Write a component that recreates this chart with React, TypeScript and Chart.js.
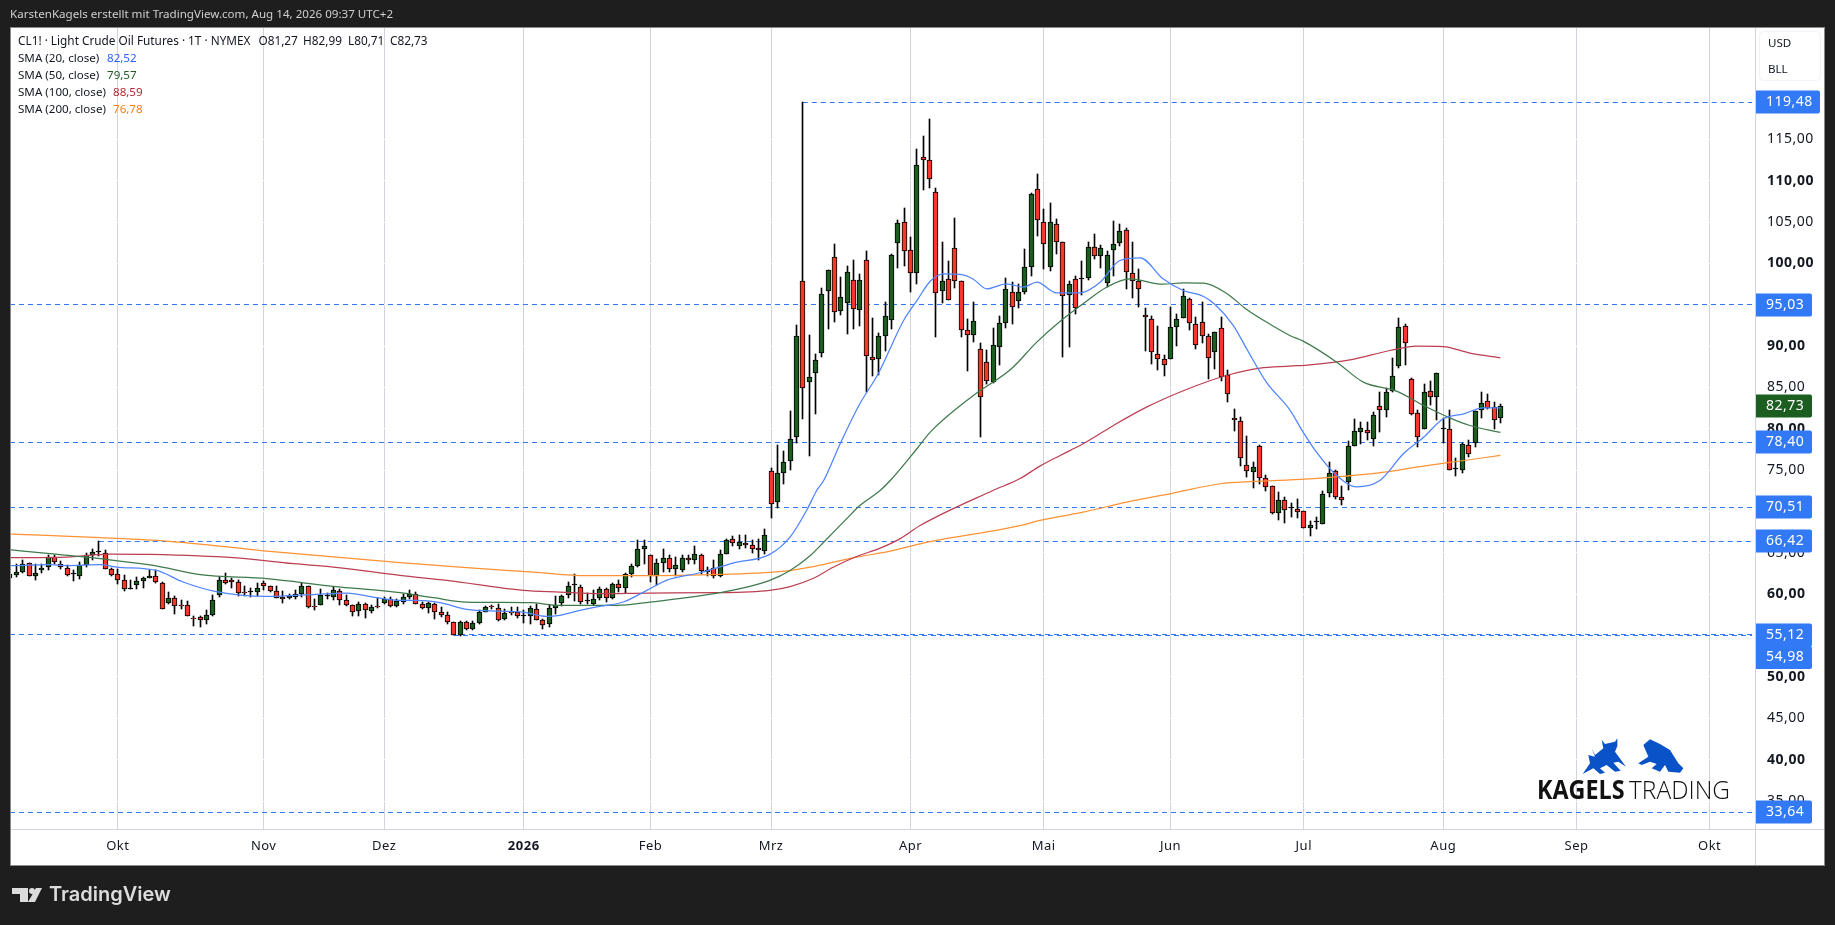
import React, { useEffect, useRef } from "react";
import { Chart, registerables } from "chart.js";

Chart.register(...registerables);

const opens = [
  61.96,62.36,62.69,63.81,62.24,62.93,63.33,64.54,63.69,63.21,
  62.40,62.24,63.57,64.74,65.10,65.02,63.09,62.49,61.76,60.67,
  61.16,61.64,61.96,62.24,61.40,58.98,59.58,58.70,58.74,57.13,
  57.29,56.89,57.49,59.95,61.76,61.76,61.52,60.31,60.27,60.27,
  61.40,61.04,60.39,59.71,59.54,59.71,60.03,61.04,58.62,58.74,
  59.75,59.67,60.43,59.34,58.74,57.97,58.86,57.97,58.50,58.98,
  59.46,58.58,59.06,59.66,60.07,58.86,58.33,58.86,57.89,57.53,
  56.64,55.07,56.68,55.84,56.52,57.89,58.53,58.33,57.04,57.85,
  57.85,57.41,57.37,58.25,56.88,56.44,58.33,58.98,59.90,61.07,
  60.91,59.14,58.78,59.54,60.67,59.58,61.19,60.79,62.48,63.41,
  65.46,64.70,62.20,63.81,64.42,63.09,62.88,64.42,64.17,64.78,
  62.97,63.21,62.16,64.90,66.71,65.83,66.23,65.99,65.62,65.26,
  74.93,71.14,74.69,76.14,79.00,97.89,85.64,86.77,89.15,96.68,
  100.79,94.27,95.23,98.01,94.39,100.43,88.71,88.47,91.24,93.18,
  102.44,105.02,101.64,98.86,112.87,112.51,108.65,96.68,98.13,101.88,
  97.89,91.97,91.36,89.67,88.10,85.64,89.91,92.81,96.56,95.47,
  96.56,99.58,109.01,105.02,99.58,104.78,102.60,96.20,98.13,98.13,
  98.25,102.00,100.91,97.65,101.63,102.48,104.05,98.86,97.89,93.78,
  93.30,89.07,88.46,88.46,92.33,93.42,95.71,92.69,92.93,91.24,
  89.31,92.21,86.53,81.33,80.97,75.65,74.81,77.95,74.08,73.12,
  69.85,71.43,70.46,70.34,70.05,68.00,68.68,68.52,72.27,74.93,
  71.78,73.60,77.95,79.64,79.88,78.79,82.78,82.30,84.59,87.62,
  92.45,86.04,81.94,80.00,84.59,83.87,80.00,80.00,75.17,75.05,
  78.07,78.31,82.30,83.39,82.66,81.27,
];
const highs = [
  62.69,63.69,64.10,63.81,63.69,63.69,64.78,64.78,64.02,63.49,
  62.97,63.90,65.02,65.51,66.39,65.39,63.17,63.09,62.28,61.76,
  62.08,62.08,62.89,62.89,61.48,60.27,59.75,59.26,59.14,57.33,
  57.41,58.05,59.87,62.08,62.61,62.00,61.76,61.04,60.75,61.40,
  61.56,61.04,61.04,60.39,60.07,60.47,61.36,61.04,59.46,60.67,
  60.15,60.87,60.67,59.87,58.74,59.06,58.98,58.66,59.58,59.71,
  59.67,59.46,60.07,60.47,60.27,59.06,59.06,58.98,58.45,57.85,
  56.68,56.72,56.72,56.72,58.13,58.53,58.74,58.86,58.25,58.45,
  58.45,58.05,58.57,58.86,57.04,58.66,59.74,59.86,61.47,62.40,
  61.15,60.19,60.47,60.87,60.75,61.35,61.76,62.56,63.69,66.55,
  66.60,64.70,64.29,65.50,64.70,64.50,64.70,64.70,65.78,64.90,
  63.29,64.09,65.30,66.71,66.99,67.20,67.12,66.59,66.71,67.84,
  75.29,77.99,77.27,82.10,92.61,119.48,91.40,88.99,97.08,99.22,
  102.40,98.41,99.74,100.47,98.66,101.56,93.34,91.61,95.39,101.15,
  105.26,106.75,103.25,113.88,115.45,117.51,109.13,102.64,100.35,105.54,
  97.89,93.22,95.39,90.32,89.55,92.13,93.70,98.29,97.81,97.57,
  101.80,108.52,110.82,106.63,107.36,105.42,102.60,97.89,98.49,100.35,
  102.60,103.57,102.24,101.51,105.14,104.78,104.29,102.60,99.34,94.63,
  93.70,92.49,88.95,94.75,93.90,96.92,95.83,93.54,95.35,91.48,
  91.73,93.54,87.13,82.34,81.45,79.16,76.02,78.07,74.45,73.12,
  72.39,71.79,71.06,71.55,70.05,68.80,69.33,72.51,76.01,74.97,
  73.11,78.55,81.21,80.85,80.85,82.06,84.47,84.92,88.58,93.42,
  92.69,86.16,82.30,85.44,85.84,86.77,81.33,82.30,76.46,78.31,
  78.67,82.18,84.47,84.23,83.27,82.99,
];
const lows = [
  61.88,62.08,62.57,62.16,61.68,62.57,62.93,63.69,63.05,62.16,
  61.60,61.84,63.29,64.10,64.58,63.05,62.16,61.28,60.39,60.67,
  60.67,60.71,61.96,61.36,58.26,58.86,57.65,58.26,57.33,56.20,
  56.04,56.44,57.37,59.67,61.20,60.71,59.83,59.75,59.67,59.83,
  60.55,60.23,59.50,58.94,59.46,59.46,59.67,58.38,58.13,58.66,
  59.42,59.34,58.66,58.62,57.41,57.41,57.13,57.69,58.38,58.86,
  58.46,58.46,58.86,59.46,58.78,58.21,57.73,57.00,57.25,56.36,
  55.07,54.99,55.72,55.72,56.44,57.85,58.25,56.80,56.84,57.45,
  57.16,56.56,56.44,56.84,55.80,56.04,57.57,58.53,59.58,59.18,
  58.78,58.78,58.66,59.34,59.06,59.46,60.27,60.15,62.08,63.29,
  63.69,61.47,61.11,62.68,62.68,62.16,62.68,63.69,63.69,62.48,
  62.24,62.00,62.08,64.82,65.79,65.46,65.54,64.98,64.09,64.90,
  69.21,70.46,73.28,74.97,78.27,81.13,76.70,81.74,88.67,92.05,
  92.90,93.82,91.45,92.01,92.41,84.44,86.33,86.53,89.47,92.05,
  99.42,99.66,96.52,97.49,108.85,109.17,91.08,95.19,95.59,97.00,
  91.08,86.97,90.48,79.00,85.44,85.52,87.66,92.25,92.65,94.55,
  96.28,98.45,103.29,99.30,99.06,101.11,88.66,89.87,93.90,96.16,
  98.01,100.51,99.42,97.20,98.53,102.08,96.88,95.79,94.71,89.39,
  87.82,87.13,86.37,88.46,90.07,93.42,91.93,89.63,90.36,86.01,
  87.29,85.76,83.23,79.76,75.49,74.16,72.83,73.36,72.47,69.73,
  68.97,68.61,69.33,69.21,68.00,67.03,67.88,68.52,71.74,71.50,
  70.78,72.59,77.95,78.15,78.59,77.91,79.56,81.41,84.47,87.33,
  87.70,81.69,77.83,80.00,82.94,81.05,78.31,75.05,74.32,74.69,
  76.62,77.79,81.33,82.42,80.00,80.71,
];
const closes = [
  62.49,62.73,63.69,62.24,62.61,63.21,64.50,63.90,63.29,62.36,
  62.40,63.57,64.78,65.14,65.10,63.09,62.36,61.76,60.67,60.67,
  61.64,62.00,62.24,61.48,58.26,59.58,58.62,58.62,57.37,57.05,
  56.89,57.53,59.34,61.76,61.36,61.48,60.15,60.15,60.27,60.79,
  61.00,60.39,59.54,59.46,59.83,60.07,61.04,58.46,58.46,59.91,
  59.75,60.55,59.34,58.74,57.89,58.86,58.13,58.50,58.46,59.46,
  58.58,59.14,59.66,60.07,58.86,58.33,58.98,57.85,57.53,56.64,
  55.07,56.68,55.84,56.52,57.89,58.45,58.49,56.88,57.77,57.77,
  57.41,57.41,58.37,56.92,56.28,58.37,58.74,59.78,61.03,61.07,
  59.02,59.14,59.46,60.67,59.58,61.27,60.79,62.48,63.45,65.50,
  65.78,62.24,63.81,64.42,63.09,63.49,64.42,64.17,64.90,62.80,
  62.72,62.24,64.90,66.59,66.23,66.27,65.95,65.46,65.30,67.20,
  70.94,74.69,76.02,78.80,91.24,84.96,86.29,88.34,96.32,99.22,
  94.14,95.96,98.98,94.51,98.01,88.83,88.34,91.24,93.66,101.03,
  104.90,101.52,98.86,111.91,112.51,110.22,96.44,97.89,95.59,97.89,
  91.97,91.36,93.06,83.87,85.81,90.16,92.81,96.92,94.75,96.56,
  99.58,108.40,105.26,102.36,105.02,102.60,96.08,97.53,94.63,98.13,
  102.00,100.91,101.88,101.03,102.36,103.93,98.98,97.89,96.92,93.54,
  89.31,88.46,87.74,92.33,93.30,96.08,92.81,90.16,91.24,88.58,
  91.73,86.29,84.23,81.09,76.50,74.93,75.41,74.08,72.99,69.85,
  71.43,70.22,70.46,69.94,68.00,68.40,68.68,72.15,74.69,71.78,
  71.42,77.95,79.76,80.12,79.52,81.69,82.30,84.47,86.41,92.33,
  90.39,81.81,79.03,84.47,83.87,86.77,80.00,75.05,75.17,78.19,
  76.98,82.18,83.14,82.54,81.09,82.73,
];

// SMA readings: bar position and value
const sma20X = [0,6.3,8.9,14.2,16.8,23.1,27.3,32.1,40.5,48.3,53.1,57.8,61.5,64.1,67.8,72,77.3,80.9,84.6,86.7,89.9,93,96.7,100.4,103.5,108.8,114,119.8,123,125.6,127.2,128.3,130.9,134,136.9,140.9,143,145.1,147.2,149.8,151.9,154,157.1,159.8,161.9,165,168.7,171.9,175,178.2,181.8,185,188.2,190,192.9,195,198.1,201.8,203.9,206,209.2,212.3,216,219.7,222.9,226,229.2,232.3,235];
const sma20Y = [63.45,63.57,63.45,63.57,63.29,62.89,61.48,60.39,59.75,59.99,60.15,59.58,59.26,59.26,58.98,58.17,57.97,57.85,57.33,57.45,58.05,58.53,59.06,60.47,61.68,62.6,63.77,64.82,66.9,70.12,72.54,73.75,78.19,83.03,86.65,93.1,95.51,97.85,98.74,98.66,98.09,96.92,97.53,97.13,97.73,96.44,96.44,97.73,100.35,100.67,98.13,96.72,96,95.03,92.49,89.67,85.64,82.3,79.6,77.18,74.36,72.99,73.76,76.98,78.99,81.21,81.81,82.54,82.52];
const sma50X = [0,6.3,14.2,22.6,30,40.5,51,61.5,66.8,72,82,86.7,95.7,100.9,111.9,119.8,123,126.2,128.3,131.9,134,137.2,138.8,143,145.1,151.9,157.9,161.9,165.6,169.2,172.9,176.6,181.8,185,188.2,191.8,195,199.2,201.8,203.9,209.2,213.4,218.6,222.9,227,230.2,235];
const sma50Y = [65.39,64.9,64.3,63.49,62.36,61.88,60.95,60.19,59.58,59.06,58.98,58.66,58.66,59.06,60.19,61.68,62.87,64.68,66.29,69.11,70.73,72.54,73.75,77.59,79.6,84.03,87.26,90.48,93,95.11,97.12,98.13,97.49,97.65,97.61,96.4,94.42,92.41,91.28,90.6,88.06,85.64,84.55,82.82,81.33,80.4,79.57];
const sma100X = [0,8.9,15.8,22.1,35.2,44.7,51,61.5,68.9,80.9,86.7,93,100.9,111.4,119.8,123,126.7,129.8,133.5,137.2,140.3,143.5,155,159.2,162.4,165.6,169.2,174,179.2,185.5,191.8,197.1,201.8,205,211.3,217.6,221.8,226,230.2,235];
const sma100Y = [64.42,64.5,64.86,64.82,64.42,63.69,63.29,62.28,61.68,60.47,60.27,60.07,60.15,60.19,60.47,60.93,61.94,63.27,64.56,65.57,66.7,68.31,72.55,73.96,75.49,76.78,78.19,80.41,82.62,84.76,86.45,87.34,87.58,87.74,88.34,89.47,90,89.95,89.15,88.59];
const sma200X = [0,14.2,24.7,40.5,61.5,72,82.5,90.9,98.3,112,123,126.7,133.5,138.8,143.5,146.1,152.4,159.8,162.4,165.6,169.2,176.1,183.4,190.8,196,201.8,207.1,215.5,222.9,228.1,235];
const sma200Y = [67.28,66.84,66.43,65.22,63.81,63.21,62.68,62.24,62.24,62.4,62.87,63.35,64.48,65.21,66.09,66.51,67.32,68.4,68.93,69.41,69.93,71.14,72.23,73.36,73.64,73.84,74.08,74.64,75.49,76.05,76.78];

const levelValues = [119.48, 95.03, 78.4, 70.51, 66.42, 55.12, 54.98, 33.64];
const levelStarts = [125, 0, 0, 0, 14, 0, 70, 0];
const levelEnd = 274.7;

const yTicks = [35,40,45,50,55,60,65,70,75,80,85,90,95,100,105,110,115];
const monthTickPositions = [17,40,59,81,101,120,142,163,183,204,226,247,268];
const monthTickLabels = ["Okt","Nov","Dez","2026","Feb","Mrz","Apr","Mai","Jun","Jul","Aug","Sep","Okt"];

const BLUE_LEVEL = "#3179f5";
const GRID = "#d1d4dc";
const TEXT = "#131722";
const UI_FONT = '"Noto Sans"';

const fmt = (v: number) => v.toFixed(2).replace(".", ",");
const pairs = (xs: number[], ys: number[]) => xs.map((x, i) => ({ x, y: ys[i] }));

function poly(ctx: CanvasRenderingContext2D, ox: number, oy: number, pts: number[][]) {
  ctx.beginPath();
  pts.forEach(([a, b], i) => {
    const px = ox + a / 3;
    const py = oy + b / 3;
    if (i === 0) ctx.moveTo(px, py);
    else ctx.lineTo(px, py);
  });
  ctx.closePath();
  ctx.fill();
}

function stretchedText(ctx: CanvasRenderingContext2D, text: string, x: number, y: number, sx: number) {
  ctx.save();
  ctx.translate(x, y);
  ctx.scale(sx, 1);
  ctx.fillText(text, 0, 0);
  ctx.restore();
}

// Snap candles and horizontal levels to whole device pixels after the scales placed them.
const crispPlugin = {
  id: "crisp",
  afterDatasetsUpdate(chart: any) {
    chart.data.datasets.forEach((ds: any, i: number) => {
      const meta = chart.getDatasetMeta(i);
      if (ds.type === "bar") {
        meta.data.forEach((el: any) => {
          el.x = Math.floor(el.x) + 0.5;
          el.y = Math.round(el.y);
          el.base = Math.round(el.base);
          if (el.y === el.base) el.base = el.y + 1;
        });
      } else if (ds.borderDash) {
        meta.data.forEach((el: any) => {
          el.y = Math.floor(el.y) + 0.5;
        });
      }
    });
  },
};

const framePlugin = {
  id: "frame",
  beforeDraw(chart: any) {
    const { ctx } = chart;
    ctx.save();
    ctx.fillStyle = "#1e1e1e";
    ctx.fillRect(0, 0, 1835, 925);
    ctx.fillStyle = "#8a8a8a";
    ctx.fillRect(10, 27, 1815, 839);
    ctx.fillStyle = "#ffffff";
    ctx.fillRect(11, 28, 1813, 837);
    ctx.restore();
    ctx.letterSpacing = "0.5px";
  },
  afterDraw(chart: any) {
    const { ctx, scales } = chart;
    const y = scales.y;
    ctx.save();
    ctx.letterSpacing = "0px";
    ctx.fillStyle = GRID;
    ctx.fillRect(1755, 28, 1, 837);
    ctx.fillRect(11, 829, 1813, 1);

    // header
    ctx.textBaseline = "middle";
    ctx.textAlign = "left";
    ctx.fillStyle = "#cfcfcf";
    ctx.font = `11.6px ${UI_FONT}`;
    ctx.fillText("KarstenKagels erstellt mit TradingView.com, Aug 14, 2026 09:37 UTC+2", 10, 15);

    // legend
    ctx.font = `11.8px ${UI_FONT}`;
    ctx.fillStyle = TEXT;
    ctx.fillText("CL1! · Light Crude Oil Futures · 1T · NYMEX", 18, 42);
    ctx.fillText("O81,27", 258.5, 42);
    ctx.fillText("H82,99", 303, 42);
    ctx.fillText("L80,71", 348, 42);
    ctx.fillText("C82,73", 390, 42);
    ctx.font = `11.6px ${UI_FONT}`;
    const legendRows = [
      ["SMA (20, close)", "82,52", "#2962ff", 107, 59],
      ["SMA (50, close)", "79,57", "#1b5e20", 107, 76],
      ["SMA (100, close)", "88,59", "#b22833", 113, 93],
      ["SMA (200, close)", "76,78", "#f57f17", 113, 110],
    ] as const;
    legendRows.forEach(([name, value, color, vx, ly]) => {
      ctx.fillStyle = TEXT;
      ctx.fillText(name, 18, ly);
      ctx.fillStyle = color;
      ctx.fillText(value, vx, ly);
    });

    // currency box
    ctx.strokeStyle = "#f0f3fa";
    ctx.lineWidth = 1;
    ctx.beginPath();
    ctx.roundRect(1759.5, 31.5, 61, 49, 4);
    ctx.stroke();
    ctx.fillStyle = TEXT;
    ctx.fillText("USD", 1768, 44);
    ctx.fillText("BLL", 1768, 70);

    // price labels
    ctx.letterSpacing = "0.5px";
    ctx.font = `14px ${UI_FONT}`;
    levelValues.forEach((v) => {
      const py = Math.round(y.getPixelForValue(v));
      const label = fmt(v);
      const w = v >= 100 ? 64 : 56;
      const by = v === 54.98 ? py + 10 : py - 11.5;
      ctx.fillStyle = BLUE_LEVEL;
      ctx.beginPath();
      ctx.roundRect(1756, by, w, 23, [0, 2, 2, 0]);
      ctx.fill();
      ctx.fillStyle = "#ffffff";
      ctx.fillText(label, 1766, by + 11.5);
    });
    const lastClose = closes[closes.length - 1];
    const lastY = Math.round(y.getPixelForValue(lastClose));
    ctx.fillStyle = "#1b5e20";
    ctx.beginPath();
    ctx.roundRect(1756, lastY - 11.5, 56, 23, [0, 2, 2, 0]);
    ctx.fill();
    ctx.fillStyle = "#ffffff";
    ctx.fillText(fmt(lastClose), 1766, lastY);
    ctx.letterSpacing = "0px";

    // watermark logo
    ctx.fillStyle = "#0a52c8";
    poly(ctx, 1500, 640, [[248,402],[270,370],[265,345],[285,350],[275,325],[285,345],[310,325],[305,300],[315,312],[345,305],[352,295],[352,318],[345,335],[378,380],[355,365],[340,368],[362,392],[345,395],[320,375],[300,385],[315,398],[300,402],[280,385]]);
    poly(ctx, 1500, 640, [[415,370],[445,350],[430,315],[450,298],[480,312],[510,330],[535,370],[550,385],[540,398],[505,395],[495,375],[480,395],[455,385],[470,372],[450,365],[425,375]]);
    ctx.fillStyle = "#111111";
    ctx.font = `700 26.5px "Open Sans"`;
    stretchedText(ctx, "KAGELS", 1537, 791, 0.88);
    ctx.font = `300 26.5px "Open Sans"`;
    stretchedText(ctx, "TRADING", 1629, 791, 0.925);

    // TradingView mark
    ctx.fillStyle = "#dcdcdc";
    ctx.fillRect(12, 888, 16, 6);
    ctx.fillRect(20, 888, 8, 14);
    ctx.beginPath();
    ctx.arc(32, 891, 3, 0, Math.PI * 2);
    ctx.fill();
    ctx.beginPath();
    ctx.moveTo(36, 888);
    ctx.lineTo(42, 888);
    ctx.lineTo(35, 902);
    ctx.lineTo(28, 902);
    ctx.closePath();
    ctx.fill();
    ctx.font = `600 20px Inter`;
    ctx.fillText("TradingView", 49, 895);
    ctx.restore();
  },
};

export default function App() {
  const ref = useRef<HTMLCanvasElement | null>(null);

  useEffect(() => {
    const canvas = ref.current;
    if (!canvas) return;
    const idx = closes.map((_, i) => i);
    const bodyColors = idx.map((i) =>
      closes[i] > opens[i] ? "#1b5e20" : closes[i] < opens[i] ? "#f7372c" : "#000000"
    );
    const levelDatasets = levelValues.map((v, i) => ({
      type: "line",
      data: [{ x: levelStarts[i], y: v }, { x: levelEnd, y: v }],
      borderColor: BLUE_LEVEL,
      borderWidth: 1,
      borderDash: [5, 4],
      pointRadius: 0,
      order: 5,
    }));
    const sma = (xs: number[], ys: number[], color: string) => ({
      type: "line",
      data: pairs(xs, ys),
      borderColor: color,
      borderWidth: 1.25,
      pointRadius: 0,
      cubicInterpolationMode: "monotone",
      order: 0,
    });
    const chart = new Chart(canvas, {
      type: "bar",
      data: {
        datasets: [
          sma(sma20X, sma20Y, "#4f85ff"),
          sma(sma50X, sma50Y, "#3f7a4c"),
          sma(sma100X, sma100Y, "#bb3f52"),
          sma(sma200X, sma200Y, "#ff9233"),
          {
            type: "bar",
            data: idx.map((i) => ({ x: i, y: [opens[i], closes[i]] })),
            backgroundColor: bodyColors,
            borderColor: "#000000",
            borderWidth: 1,
            borderSkipped: false,
            barThickness: 5,
            minBarLength: 1,
            grouped: false,
            order: 1,
          },
          {
            type: "bar",
            data: idx.map((i) => ({ x: i, y: [lows[i], highs[i]] })),
            backgroundColor: "#000000",
            borderWidth: 0,
            barThickness: 1,
            grouped: false,
            order: 2,
          },
          ...levelDatasets,
        ] as any,
      },
      options: {
        responsive: false,
        animation: false,
        devicePixelRatio: 1,
        events: [],
        layout: { padding: { left: 11, top: 28, right: 11, bottom: 60 } },
        plugins: { legend: { display: false }, tooltip: { enabled: false } },
        scales: {
          x: {
            type: "linear",
            min: 0.158,
            max: 275.15,
            offset: false,
            afterBuildTicks: (s: any) => {
              s.ticks = monthTickPositions.map((value) => ({ value }));
            },
            afterFit: (s: any) => {
              s.height = 36;
            },
            border: { display: false },
            grid: { offset: false, color: GRID, lineWidth: 1, drawTicks: false, z: -2 },
            ticks: {
              autoSkip: false,
              maxRotation: 0,
              padding: 9,
              color: TEXT,
              font: (c: any) => ({
                family: UI_FONT,
                size: 13,
                weight: c.tick && c.tick.value === 81 ? "bold" : "normal",
              }),
              callback: (v: any) => monthTickLabels[monthTickPositions.indexOf(Number(v))] ?? "",
            },
          },
          y: {
            type: "linear",
            position: "right",
            min: 31.62,
            max: 128.46,
            afterBuildTicks: (s: any) => {
              s.ticks = yTicks.map((value) => ({ value }));
            },
            afterFit: (s: any) => {
              s.width = 69;
            },
            border: { display: false },
            grid: { color: "#ffffff", lineWidth: 1, drawTicks: false, z: -1 },
            ticks: {
              autoSkip: false,
              padding: 12,
              crossAlign: "near",
              color: TEXT,
              font: (c: any) => ({
                family: UI_FONT,
                size: 14,
                weight: c.tick && c.tick.value % 10 === 0 ? "bold" : "normal",
              }),
              callback: (v: any) => fmt(Number(v)),
            },
          },
        },
      } as any,
      plugins: [crispPlugin, framePlugin],
    });
    return () => chart.destroy();
  }, []);

  return (
    <div style={{ position: "fixed", left: 0, top: 0, width: 1835, height: 925 }}>
      <canvas ref={ref} width={1835} height={925} style={{ display: "block", width: 1835, height: 925 }} />
    </div>
  );
}
